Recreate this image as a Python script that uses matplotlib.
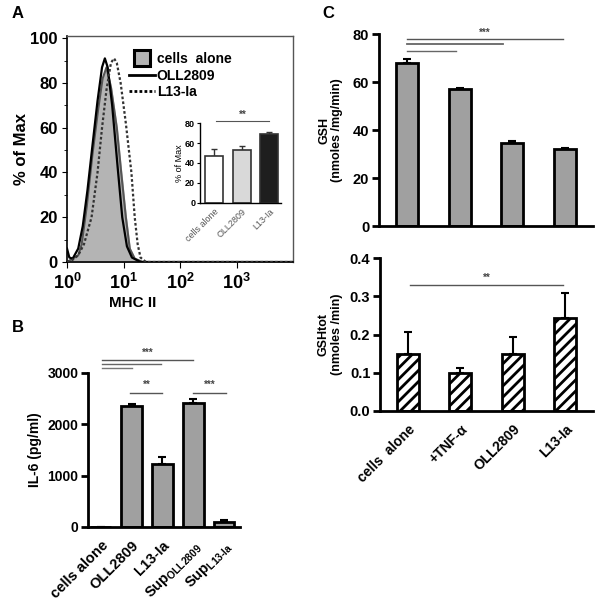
import numpy as np
import matplotlib
matplotlib.use("Agg")
import matplotlib.pyplot as plt
from matplotlib.lines import Line2D

plt.rcParams['font.family'] = ['Liberation Sans', 'DejaVu Sans']
plt.rcParams['font.weight'] = 'bold'
plt.rcParams['axes.labelweight'] = 'bold'
plt.rcParams['mathtext.fontset'] = 'custom'
plt.rcParams['mathtext.rm'] = 'Liberation Sans:bold'
plt.rcParams['mathtext.bf'] = 'Liberation Sans:bold'
plt.rcParams['hatch.linewidth'] = 2.0

# ---- panel A: MHC II histograms ----
mhc_cells = [1.0, 1.58, 1.82, 2.24, 2.82, 3.55, 4.27, 5.0, 6.0, 7.6, 9.1, 11, 12.9, 15.8, 22, 10000]
pct_cells = [0, 3, 8, 25, 48, 68, 82, 87, 78, 60, 40, 20, 6, 1.5, 0, 0]
mhc_oll = [1.0, 1.1, 1.26, 1.58, 1.9, 2.3, 2.82, 3.47, 4.17, 4.68, 5.25, 6.3, 7.9, 9.5, 11.5, 14.1, 20, 10000]
pct_oll = [6, 2, 1.5, 6, 16, 32, 52, 72, 87, 91, 87, 70, 42, 20, 7, 2, 0, 0]
mhc_l13 = [1.0, 1.26, 1.58, 2.0, 2.72, 3.47, 4.17, 5.0, 6.0, 6.8, 7.6, 8.9, 11, 13.8, 15.8, 17.8, 20, 25, 10000]
pct_l13 = [0, 1, 3, 8, 20, 40, 60, 77, 89, 91, 89, 80, 62, 40, 20, 8, 2, 0, 0]

inset_groups = ['cells alone', 'OLL2809', 'L13-Ia']
inset_vals = [47, 53, 69]
inset_err = [7, 4, 2]

# ---- panel B: IL-6 ----
il6_groups = ['cells alone', 'OLL2809', 'L13-Ia',
              r'Sup$_{\mathbf{OLL2809}}$', r'Sup$_{\mathbf{L13\text{-}Ia}}$']
il6_vals = [5, 2350, 1220, 2420, 100]
il6_err = [0, 50, 150, 70, 30]

# ---- panel C: GSH ----
gsh_groups = ['cells  alone', '+TNF-α', 'OLL2809', 'L13-Ia']
gsh_vals = [68, 57, 34.5, 32]
gsh_err = [1.5, 0.6, 1.0, 0.6]
gshtot_vals = [0.15, 0.10, 0.15, 0.243]
gshtot_err = [0.057, 0.012, 0.043, 0.065]

W, H = 600, 603
fig = plt.figure(figsize=(W / 100, H / 100), dpi=100)


def px_axes(x0, y0, x1, y1):
    return fig.add_axes([x0 / W, 1 - y1 / H, (x1 - x0) / W, (y1 - y0) / H])


def style_bar_axes(ax, size=8.5):
    for s in ('top', 'right'):
        ax.spines[s].set_visible(False)
    for s in ('left', 'bottom'):
        ax.spines[s].set_linewidth(2)
    ax.tick_params(axis='y', width=2, length=5, labelsize=size, pad=2)
    ax.tick_params(axis='x', length=0, labelsize=size)


def sig(ax, x0, x1, y, label=None, ly=None, color='#555555', lw=1.0):
    ax.plot([x0, x1], [y, y], color=color, lw=lw, clip_on=False)
    if label:
        ax.text((x0 + x1) / 2, ly, label, ha='center', va='bottom',
                fontsize=7, color='#444444', clip_on=False)


# ----- A -----
axA = px_axes(67, 36, 293, 262)
axA.fill_between(mhc_cells, pct_cells, color='#b4b4b4', zorder=1)
axA.plot(mhc_cells, pct_cells, color='#555555', lw=1.5, zorder=2)
axA.plot(mhc_oll, pct_oll, color='black', lw=1.6, zorder=3)
axA.plot(mhc_l13, pct_l13, color='#333333', lw=1.6, ls=(0, (1.2, 1.0)), zorder=3)
axA.set_xscale('log')
axA.set_xlim(1, 10000)
axA.set_ylim(0, 101)
axA.set_yticks([0, 20, 40, 60, 80, 100])
axA.set_yticks(range(10, 100, 20), minor=True)
axA.set_xticks([1, 10, 100, 1000])
axA.set_xticklabels([r'$\mathbf{10^{%d}}$' % i for i in range(4)])
axA.tick_params(axis='y', labelsize=12, pad=3)
axA.tick_params(axis='x', which='major', length=4, pad=4, labelsize=13)
axA.tick_params(which='minor', length=2)
for s in ('top', 'right'):
    axA.spines[s].set_color('#555555')
    axA.spines[s].set_linewidth(1)
axA.spines['left'].set_linewidth(1.2)
axA.spines['bottom'].set_linewidth(1.2)
axA.set_ylabel('% of Max', fontsize=12, labelpad=1)
axA.set_xlabel('MHC II', fontsize=11)
axA.xaxis.set_label_coords(0.29, -0.15)
handles = [Line2D([], [], lw=0, marker='s', markersize=11, markerfacecolor='#b4b4b4',
                  markeredgecolor='black', markeredgewidth=2.2),
           Line2D([], [], color='black', lw=2),
           Line2D([], [], color='black', lw=2, ls=(0, (1, 0.8)))]
axA.legend(handles, ['cells  alone', 'OLL2809', 'L13-Ia'], loc='upper left',
           bbox_to_anchor=(0.25, 0.955), frameon=False, fontsize=10,
           handlelength=1.9, handletextpad=0.1, labelspacing=0.2,
           borderaxespad=0)

# inset
axI = px_axes(200, 123, 281, 203)
xi = np.arange(len(inset_groups))
axI.bar(xi, inset_vals, width=0.67, color=['white', '#d9d9d9', '#1e1e1e'],
        edgecolor='#333333', lw=1.2, zorder=2)
axI.errorbar(xi, inset_vals, yerr=[[0] * 3, inset_err], fmt='none',
             ecolor='#333333', elinewidth=1, capsize=2.5, capthick=1, zorder=1)
axI.set_xlim(-0.52, 2.43)
axI.set_ylim(0, 80)
axI.set_yticks([0, 20, 40, 60, 80])
for s in ('top', 'right'):
    axI.spines[s].set_visible(False)
for s in ('left', 'bottom'):
    axI.spines[s].set_linewidth(1)
axI.tick_params(axis='y', labelsize=6.5, length=2.5, pad=1)
axI.set_xticks(xi)
axI.set_xticklabels(inset_groups, rotation=45, ha='right', rotation_mode='anchor',
                    fontsize=6.5, fontweight='normal', color='#555555')
axI.tick_params(axis='x', length=0, pad=3)
axI.set_ylabel('% of Max', fontsize=6.5, fontweight='normal', labelpad=1)
sig(axI, 0.05, 2.0, 82, '**', 83, lw=0.8)

# ----- B -----
axB = px_axes(88, 373, 240, 527)
xb = np.arange(len(il6_groups))
axB.bar(xb, il6_vals, width=0.68, color='#a0a0a0', edgecolor='black', lw=2, zorder=2)
axB.errorbar(xb, il6_vals, yerr=[[0] * 5, il6_err], fmt='none', ecolor='black',
             elinewidth=1.5, capsize=3, capthick=1.5, zorder=1)
axB.set_xlim(-0.42, 4.52)
axB.set_ylim(0, 3000)
axB.set_yticks([0, 1000, 2000, 3000])
style_bar_axes(axB, 10)
axB.set_xticks(xb)
axB.set_xticklabels(il6_groups, rotation=45, ha='right', rotation_mode='anchor')
axB.tick_params(axis='x', pad=8, labelsize=10.5)
axB.set_ylabel('IL-6 (pg/ml)', fontsize=10, labelpad=4)
sig(axB, 0.02, 3.0, 3250, '***', 3300)
sig(axB, 0.02, 1.95, 3170, color='#666666')
sig(axB, 0.02, 1.0, 3090, color='#777777')
sig(axB, 0.95, 2.0, 2620, '**', 2680)
sig(axB, 3.0, 4.05, 2620, '***', 2680)

# ----- C top -----
axC = px_axes(379, 34, 593, 226)
xc = np.arange(len(gsh_groups))
axC.bar(xc, gsh_vals, width=0.42, color='#a0a0a0', edgecolor='black', lw=2, zorder=2)
axC.errorbar(xc, gsh_vals, yerr=[[0] * 4, gsh_err], fmt='none', ecolor='black',
             elinewidth=1.5, capsize=3, capthick=1.5, zorder=1)
axC.set_xlim(-0.53, 3.53)
axC.set_ylim(0, 80)
axC.set_yticks([0, 20, 40, 60, 80])
style_bar_axes(axC, 10.5)
axC.set_xticks([])
axC.set_ylabel('GSH\n(nmoles /mg/min)', fontsize=9, labelpad=7, linespacing=1.1)
sig(axC, 0.0, 2.97, 78, '***', 78.6)
sig(axC, 0.0, 1.82, 76, color='#666666', lw=1.3)
sig(axC, 0.0, 0.94, 73, color='#666666')

# ----- C bottom -----
axD = px_axes(380, 258, 593, 411)
axD.bar(xc, gshtot_vals, width=0.42, color='white', edgecolor='black', lw=2,
        hatch='///', zorder=2)
axD.errorbar(xc, gshtot_vals, yerr=[[0] * 4, gshtot_err], fmt='none', ecolor='black',
             elinewidth=1.5, capsize=3, capthick=1.5, zorder=1)
axD.set_xlim(-0.53, 3.53)
axD.set_ylim(0, 0.4)
axD.set_yticks([0, 0.1, 0.2, 0.3, 0.4])
axD.yaxis.set_major_formatter(plt.FormatStrFormatter('%.1f'))
style_bar_axes(axD, 10.5)
axD.set_xticks(xc)
axD.set_xticklabels(gsh_groups, rotation=45, ha='right', rotation_mode='anchor')
axD.tick_params(axis='x', pad=8, labelsize=10)
axD.set_ylabel('GSHtot\n(nmoles /min)', fontsize=9, labelpad=5, linespacing=1.1)
sig(axD, 0.05, 2.95, 0.33, '**', 0.335)

# panel letters
fig.text(12 / W, 1 - 14 / H, 'A', fontsize=12, va='center')
fig.text(12 / W, 1 - 328 / H, 'B', fontsize=12, va='center')
fig.text(322 / W, 1 - 14 / H, 'C', fontsize=12, va='center')

fig.savefig('out.png', dpi=100)
